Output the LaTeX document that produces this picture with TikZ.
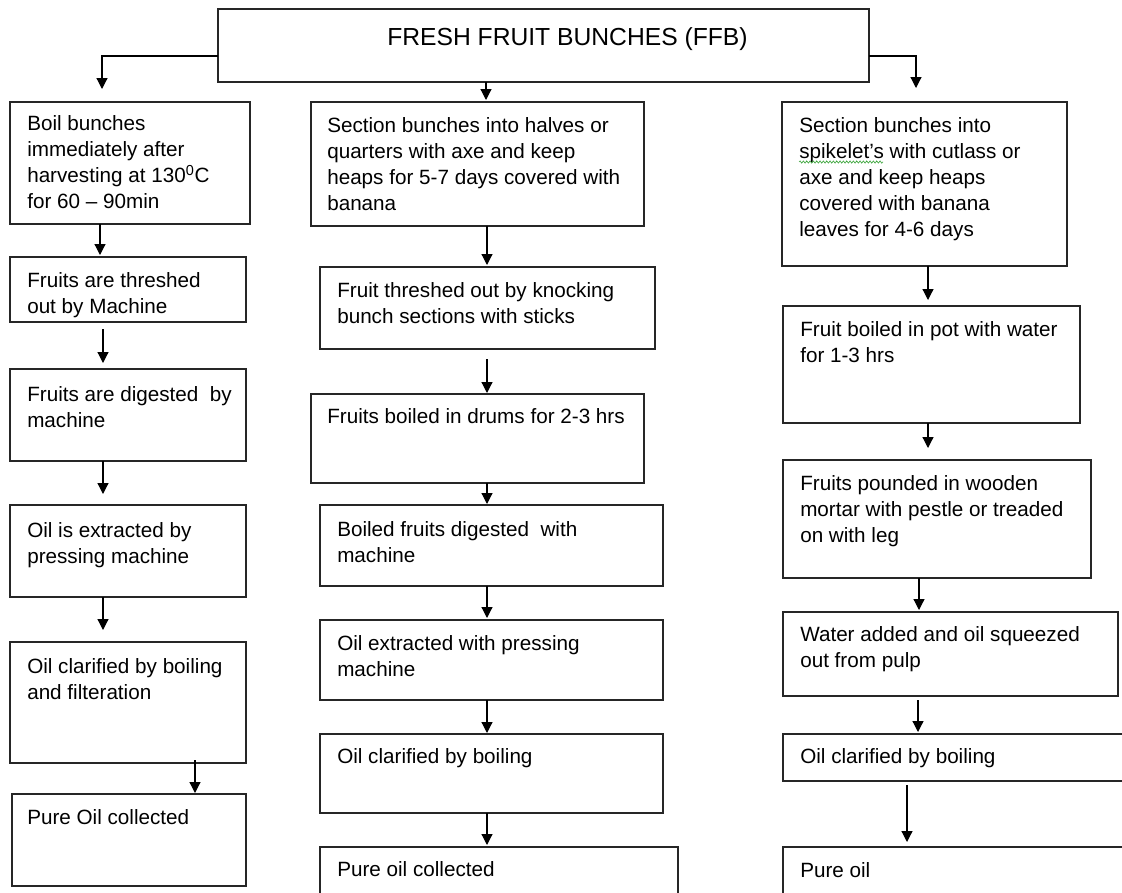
\documentclass[tikz,border=0pt]{standalone}
\usepackage{fontspec}
\setmainfont{Liberation Sans}
\usetikzlibrary{arrows.meta, decorations.pathmorphing}
\definecolor{lineDark}{HTML}{262626}
\definecolor{spellGreen}{HTML}{3BA33B}

\begin{document}
\begin{tikzpicture}[x=0.75pt, y=-0.75pt,
    stage/.style 2 args={rectangle, draw=lineDark, line width=0.9pt, anchor=north west,
                 inner sep=0pt, outer sep=0pt,
                 minimum width=#1*0.75pt, minimum height=#2*0.75pt},
    txt/.style={anchor=north west, inner sep=0pt, align=left, text=black,
                font=\fontsize{15.5}{19.5}\selectfont},
    flow/.style={draw=black, line width=0.9pt, -{Triangle[length=8.25pt, width=8.25pt]}},
    spell/.style={draw=spellGreen, line width=0.5pt,
                  decorate, decoration={snake, amplitude=0.8pt, segment length=2.5pt}},
  ]
    \useasboundingbox (0,0) rectangle (1122,893);
    \clip (0,0) rectangle (1122,893);

    \node[stage={651}{73}] (ffb) at (218,9) {};
    \node[txt, font=\fontsize{18.5}{22}\selectfont] (ffbt) at ([shift={(169,18)}]ffb.north west)
      {FRESH FRUIT BUNCHES (FFB)};

    % left column
    \node[stage={240}{122}] (l1) at (10,102) {};
    \node[stage={236}{65}] (l2) at (10,257) {};
    \node[stage={236}{92}] (l3) at (10,369) {};
    \node[stage={236}{92}] (l4) at (10,505) {};
    \node[stage={236}{121}] (l5) at (10,642) {};
    \node[stage={234}{92}] (l6) at (12,794) {};
    \node[txt] (l1t) at ([shift={(17,13)}]l1.north west)
      {Boil bunches\\immediately after\\harvesting at 130\textsuperscript{0}C\\for 60 – 90min};
    \node[txt] (l2t) at ([shift={(17,15)}]l2.north west)
      {Fruits are threshed\\out by Machine};
    \node[txt] (l3t) at ([shift={(17,17)}]l3.north west)
      {Fruits are digested\ \ by\\machine};
    \node[txt] (l4t) at ([shift={(17,17)}]l4.north west)
      {Oil is extracted by\\pressing machine};
    \node[txt] (l5t) at ([shift={(17,16)}]l5.north west)
      {Oil clarified by boiling\\and filteration};
    \node[txt] (l6t) at ([shift={(15,15)}]l6.north west)
      {Pure Oil collected};

    % middle column
    \node[stage={333}{124}] (m1) at (311,102) {};
    \node[stage={335}{82}] (m2) at (320,267) {};
    \node[stage={333}{89}] (m3) at (311,394) {};
    \node[stage={343}{81}] (m4) at (320,505) {};
    \node[stage={343}{80}] (m5) at (320,620) {};
    \node[stage={343}{79}] (m6) at (320,734) {};
    \node[stage={358}{60}] (m7) at (320,847) {};
    \node[txt] (m1t) at ([shift={(16,15)}]m1.north west)
      {Section bunches into halves or\\quarters with axe and keep\\heaps for 5-7 days covered with\\banana};
    \node[txt] (m2t) at ([shift={(17,15)}]m2.north west)
      {Fruit threshed out by knocking\\bunch sections with sticks};
    \node[txt] (m3t) at ([shift={(16,14)}]m3.north west)
      {Fruits boiled in drums for 2-3 hrs};
    \node[txt] (m4t) at ([shift={(17,16)}]m4.north west)
      {Boiled fruits digested\ \ with\\machine};
    \node[txt] (m5t) at ([shift={(17,15)}]m5.north west)
      {Oil extracted with pressing\\machine};
    \node[txt] (m6t) at ([shift={(17,14)}]m6.north west)
      {Oil clarified by boiling};
    \node[txt] (m7t) at ([shift={(17,14)}]m7.north west)
      {Pure oil collected};

    % right column
    \node[stage={285}{164}] (r1) at (782,102) {};
    \node[stage={297}{117}] (r2) at (783,306) {};
    \node[stage={308}{118}] (r3) at (783,460) {};
    \node[stage={335}{84}] (r4) at (783,612) {};
    \node[stage={352}{47}] (r5) at (783,734) {};
    \node[stage={352}{60}] (r6) at (783,847) {};
    \node[txt] (r1t) at ([shift={(17,15)}]r1.north west)
      {Section bunches into\\spikelet’s with cutlass or\\axe and keep heaps\\covered with banana\\leaves for 4-6 days};
    \draw[spell] ([shift={(17,60)}]r1.north west) -- ++(84,0);
    \node[txt] (r2t) at ([shift={(17,15)}]r2.north west)
      {Fruit boiled in pot with water\\for 1-3 hrs};
    \node[txt] (r3t) at ([shift={(17,15)}]r3.north west)
      {Fruits pounded in wooden\\mortar with pestle or treaded\\on with leg};
    \node[txt] (r4t) at ([shift={(17,14)}]r4.north west)
      {Water added and oil squeezed\\out from pulp};
    \node[txt] (r5t) at ([shift={(17,14)}]r5.north west)
      {Oil clarified by boiling};
    \node[txt] (r6t) at ([shift={(17,15)}]r6.north west)
      {Pure oil};

    % connectors
    \draw[flow, shorten >=9.75pt] (ffb.west |- 0,56) -| (l1.north -| 102,0);
    \draw[flow, shorten >=1.5pt] (ffb.south -| 486,0) -- (m1.north -| 486,0);
    \draw[flow, shorten >=10.5pt] (ffb.east |- 0,56) -| (r1.north -| 916,0);

    \draw[flow, shorten >=1.5pt] (l1.south -| 100,0) -- (l2.north -| 100,0);
    \draw[flow, shorten <=5.25pt, shorten >=4.5pt] (l2.south -| 103,0) -- (l3.north -| 103,0);
    \draw[flow, shorten >=8.25pt] (l3.south -| 103,0) -- (l4.north -| 103,0);
    \draw[flow, shorten >=9pt] (l4.south -| 103,0) -- (l5.north -| 103,0);
    \draw[flow, shorten <=-2.25pt, shorten >=0.75pt] (l5.south -| 195,0) -- (l6.north -| 195,0);

    \draw[flow, shorten >=1.5pt] (m1.south -| 487,0) -- (m2.north -| 487,0);
    \draw[flow, shorten <=7.5pt, shorten >=0.75pt] (m2.south -| 487,0) -- (m3.north -| 487,0);
    \draw[flow, shorten >=0.75pt] (m3.south -| 487,0) -- (m4.north -| 487,0);
    \draw[flow, shorten >=1.5pt] (m4.south -| 487,0) -- (m5.north -| 487,0);
    \draw[flow, shorten >=0.75pt] (m5.south -| 487,0) -- (m6.north -| 487,0);
    \draw[flow, shorten >=1.5pt] (m6.south -| 487,0) -- (m7.north -| 487,0);

    \draw[flow, shorten >=4.5pt] (r1.south -| 928,0) -- (r2.north -| 928,0);
    \draw[flow, shorten >=9pt] (r2.south -| 928,0) -- (r3.north -| 928,0);
    \draw[flow, shorten >=1.5pt] (r3.south -| 919,0) -- (r4.north -| 919,0);
    \draw[flow, shorten <=3pt, shorten >=1.5pt] (r4.south -| 918,0) -- (r5.north -| 918,0);
    \draw[flow, shorten <=3pt, shorten >=3.75pt] (r5.south -| 907,0) -- (r6.north -| 907,0);
  \end{tikzpicture}
\end{document}
